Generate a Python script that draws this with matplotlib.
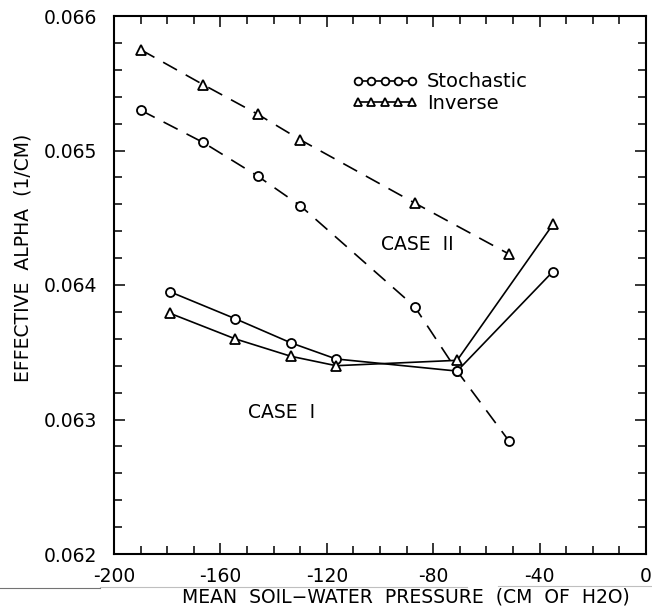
import numpy as np
import matplotlib
matplotlib.use("Agg")
import matplotlib.pyplot as plt
from matplotlib.ticker import MultipleLocator
from matplotlib.lines import Line2D

plt.rcParams['font.family'] = ['DejaVu Sans']

# CASE I (solid)
x_case1 = [-179, -154.5, -133.5, -116.5, -71, -35]
stoch_case1 = [0.06395, 0.06375, 0.06357, 0.06345, 0.06336, 0.06410]
inv_case1 = [0.06379, 0.06360, 0.06347, 0.06340, 0.06344, 0.06445]

# CASE II (dashed)
x_case2_stoch = [-190, -166.5, -146, -130, -87, -71, -51.5]
stoch_case2 = [0.06530, 0.06506, 0.06481, 0.06459, 0.06384, 0.06336, 0.06284]
x_case2_inv = [-190, -166.5, -146, -130, -87, -51.5]
inv_case2 = [0.06575, 0.06549, 0.06527, 0.06508, 0.06461, 0.06423]

xticks = [-200, -160, -120, -80, -40, 0]
yticks = [0.062, 0.063, 0.064, 0.065, 0.066]

fig = plt.figure(figsize=(6.52, 6.07), dpi=100)
ax = fig.add_axes([114 / 652, 53 / 607, 532 / 652, 538 / 607])

lw = 1.2
ms = 6.5
mew = 1.3
dash = (9.5, 6)

ax.plot(x_case1, stoch_case1, '-', color='k', lw=lw, marker='o', ms=ms,
        mfc='white', mec='k', mew=mew, label='Stochastic')
ax.plot(x_case1, inv_case1, '-', color='k', lw=lw, marker='^', ms=ms,
        mfc='white', mec='k', mew=mew, label='Inverse')
ax.plot(x_case2_stoch, stoch_case2, color='k', lw=lw, dashes=dash, marker='o', ms=ms,
        mfc='white', mec='k', mew=mew)
ax.plot(x_case2_inv, inv_case2, color='k', lw=lw, dashes=dash, marker='^', ms=ms,
        mfc='white', mec='k', mew=mew)

ax.set_xlim(-200, 0)
ax.set_ylim(0.062, 0.066)
ax.set_xticks(xticks)
ax.set_yticks(yticks)
ax.set_xticklabels([str(v) for v in xticks])
ax.set_yticklabels(['%.3f' % v for v in yticks])
ax.xaxis.set_minor_locator(MultipleLocator(10))
ax.yaxis.set_minor_locator(MultipleLocator(0.0002))

ax.tick_params(which='both', direction='in', top=True, right=True, width=1.1,
               labelsize=13.5)
ax.tick_params(which='major', length=8)
ax.tick_params(which='minor', length=5.5)
ax.tick_params(axis='y', pad=12)
ax.tick_params(axis='x', pad=9)
for s in ax.spines.values():
    s.set_linewidth(1.5)

ax.set_xlabel('MEAN  SOIL\u2212WATER  PRESSURE  (CM  OF  H2O)', fontsize=13.5, va='center')
ax.xaxis.set_label_coords(0.549, -0.079)
ax.set_ylabel('EFFECTIVE  ALPHA  (1/CM)', fontsize=13.5, va='center')
ax.yaxis.set_label_coords(-0.171, 0.55)

ax.text(-86, 0.0643, 'CASE  II', fontsize=13.5, ha='center', va='center')
ax.text(-137, 0.06305, 'CASE  I', fontsize=13.5, ha='center', va='center')

leg = ax.legend(loc='upper left', bbox_to_anchor=(0.447, 0.895), frameon=False,
                numpoints=5, markerscale=0.85, handlelength=3.4, handletextpad=0.45,
                labelspacing=0.12, borderpad=0, borderaxespad=0, fontsize=14)

# scan artifact line under the axis labels
fig.add_artist(Line2D([0, 100 / 652], [19 / 607, 19 / 607], color='0.45', lw=0.8))
fig.add_artist(Line2D([100 / 652, 467 / 652], [20 / 607, 20 / 607], color='0.75', lw=0.8))
fig.add_artist(Line2D([498 / 652, 1], [21 / 607, 21 / 607], color='0.75', lw=0.8))

fig.savefig('out.png', dpi=100)
